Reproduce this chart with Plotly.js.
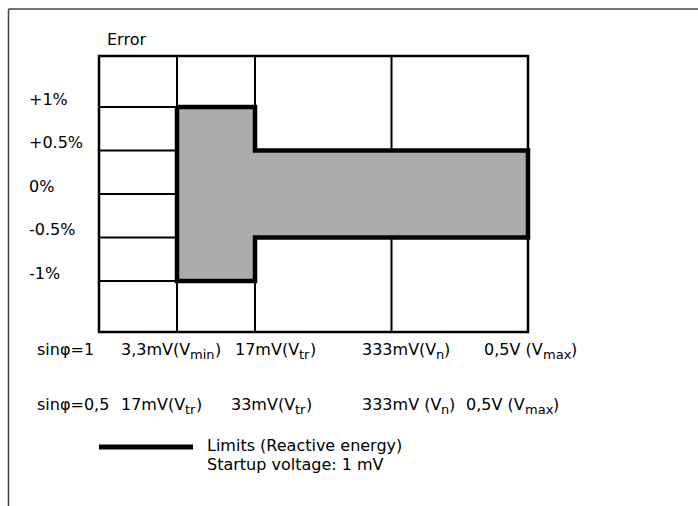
<!DOCTYPE html>
<html>
<head>
<meta charset="utf-8">
<script src="https://cdn.plot.ly/plotly-3.0.1.min.js"></script>
<style>html,body{margin:0;padding:0;background:#fff;}#chart{width:698px;height:506px;}</style>
</head>
<body>
<div id="chart"></div>
<script>
// ---- data ----
const gridX = [0, 1, 2, 3.75, 5.5];               // schematic column boundaries (voltage points)
const errorLevels = [1, 0.5, 0, -0.5, -1];         // error levels in %
const errorLabels = ['+1%', '+0.5%', '0%', '-0.5%', '-1%'];
const rowLabels = ['sinφ=1', 'sinφ=0,5'];
const voltRow1 = ['3,3mV(V', '17mV(V', '333mV(V', '0,5V (V'];
const subRow1 = ['min', 'tr', 'n', 'max'];
const voltRow2 = ['17mV(V', '33mV(V', '333mV (V', '0,5V (V'];
const subRow2 = ['tr', 'tr', 'n', 'max'];
const limitStartCol = [1, 2];                     // index into gridX
const limitEndCol = [2, 4];
const limitError = [1, 0.5];                      // ± error limit in %
const legendLines = ['Limits (Reactive energy)', 'Startup voltage: 1 mV'];
const axisTitle = 'Error';

// ---- layout constants ----
const W = 698, H = 506;
const mL = 91, plotW = 446, mT = 50, plotH = 288;
const pxPerX = 78, pxPerY = 87;
const xRange = [-(99 - mL) / pxPerX, 5.5 + (mL + plotW - 528) / pxPerX];
const yHalf = (plotH / 2) / pxPerY;
const yRange = [-yHalf, yHalf];
const boxTop = 1 + 51 / pxPerY;
const FONT = 'DejaVu Sans';
const FS = 16, FS_SUB = 13;
const px2x = p => (p - mL) / plotW;
const px2y = p => (mT + plotH - p) / plotH;

const ctx = document.createElement('canvas').getContext('2d');
const textW = (t, size) => { ctx.font = size + 'px "' + FONT + '"'; return ctx.measureText(t).width; };

// ---- limit polygon from the data ----
const polyX = [], polyY = [];
for (let i = 0; i < limitError.length; i++) {
  polyX.push(gridX[limitStartCol[i]], gridX[limitEndCol[i]]);
  polyY.push(limitError[i], limitError[i]);
}
for (let i = limitError.length - 1; i >= 0; i--) {
  polyX.push(gridX[limitEndCol[i]], gridX[limitStartCol[i]]);
  polyY.push(-limitError[i], -limitError[i]);
}
polyX.push(polyX[0]); polyY.push(polyY[0]);

const traces = [{
  type: 'scatter', mode: 'lines', x: polyX, y: polyY,
  fill: 'toself', fillcolor: '#ababab',
  line: {color: '#000', width: 4.5},
  hoverinfo: 'skip', showlegend: false
}];

// ---- grid shapes ----
const shapes = [];
shapes.push({type: 'rect', xref: 'x', yref: 'y', x0: gridX[0], x1: gridX[gridX.length - 1], y0: -boxTop, y1: boxTop,
  line: {color: '#000', width: 2.5}, layer: 'below'});
errorLevels.forEach(v => shapes.push({type: 'line', xref: 'x', yref: 'y', x0: gridX[0], x1: gridX[1], y0: v, y1: v,
  line: {color: '#000', width: 2}, layer: 'below'}));
gridX.slice(1, -1).forEach(x => shapes.push({type: 'line', xref: 'x', yref: 'y', x0: x, x1: x, y0: -boxTop, y1: boxTop,
  line: {color: '#000', width: 2}, layer: 'below'}));
// page frame
shapes.push({type: 'line', xref: 'paper', yref: 'paper', x0: px2x(8.5), x1: px2x(W), y0: px2y(9), y1: px2y(9),
  line: {color: '#444', width: 1.5}});
shapes.push({type: 'line', xref: 'paper', yref: 'paper', x0: px2x(8.5), x1: px2x(8.5), y0: px2y(9), y1: px2y(H),
  line: {color: '#444', width: 1.5}});
// legend key
shapes.push({type: 'line', xref: 'paper', yref: 'paper', x0: px2x(99), x1: px2x(193), y0: px2y(447), y1: px2y(447),
  line: {color: '#000', width: 5}});

// ---- text ----
const font = {family: FONT, size: FS, color: '#000'};
const subFont = {family: FONT, size: FS_SUB, color: '#000'};
const ann = [];
const addText = (o) => ann.push(Object.assign({showarrow: false, font: font, xanchor: 'left', yanchor: 'middle', borderpad: 0, borderwidth: 0}, o));
// label with a subscript: main text, subscript, closing parenthesis
const addSubLabel = (main, sub, x, xshift, yc) => {
  const w1 = textW(main, FS), w2 = textW(sub, FS_SUB);
  addText({text: main, xref: 'x', yref: 'paper', x: x, xshift: xshift, y: px2y(yc)});
  addText({text: sub, font: subFont, xref: 'x', yref: 'paper', x: x, xshift: xshift + w1, y: px2y(yc), yshift: -5});
  addText({text: ')', xref: 'x', yref: 'paper', x: x, xshift: xshift + w1 + w2, y: px2y(yc)});
};
addText({text: axisTitle, xref: 'paper', yref: 'paper', x: px2x(107), y: px2y(39)});
errorLabels.forEach((t, i) => addText({text: t, xref: 'paper', yref: 'y', x: px2x(29), y: errorLevels[i], yshift: 8}));
addText({text: rowLabels[0], xref: 'paper', yref: 'paper', x: px2x(37), y: px2y(349)});
addText({text: rowLabels[1], xref: 'paper', yref: 'paper', x: px2x(37), y: px2y(404)});
const shift1 = [-56, -20, -30, -44];
const shift2 = [-56, -24, -30, -62];
voltRow1.forEach((t, i) => addSubLabel(t, subRow1[i], gridX[i + 1], shift1[i], 349));
voltRow2.forEach((t, i) => addSubLabel(t, subRow2[i], gridX[i + 1], shift2[i], 404));
addText({text: legendLines[0], xref: 'paper', yref: 'paper', x: px2x(207), y: px2y(445)});
addText({text: legendLines[1], xref: 'paper', yref: 'paper', x: px2x(207), y: px2y(464)});

const layout = {
  width: W, height: H,
  margin: {l: mL, r: W - mL - plotW, t: mT, b: H - mT - plotH, pad: 0},
  paper_bgcolor: '#fff', plot_bgcolor: '#fff',
  xaxis: {range: xRange, visible: false, fixedrange: true},
  yaxis: {range: yRange, visible: false, fixedrange: true},
  shapes: shapes, annotations: ann, showlegend: false,
  font: font
};
Plotly.newPlot('chart', traces, layout, {displayModeBar: false});
</script>
</body>
</html>
